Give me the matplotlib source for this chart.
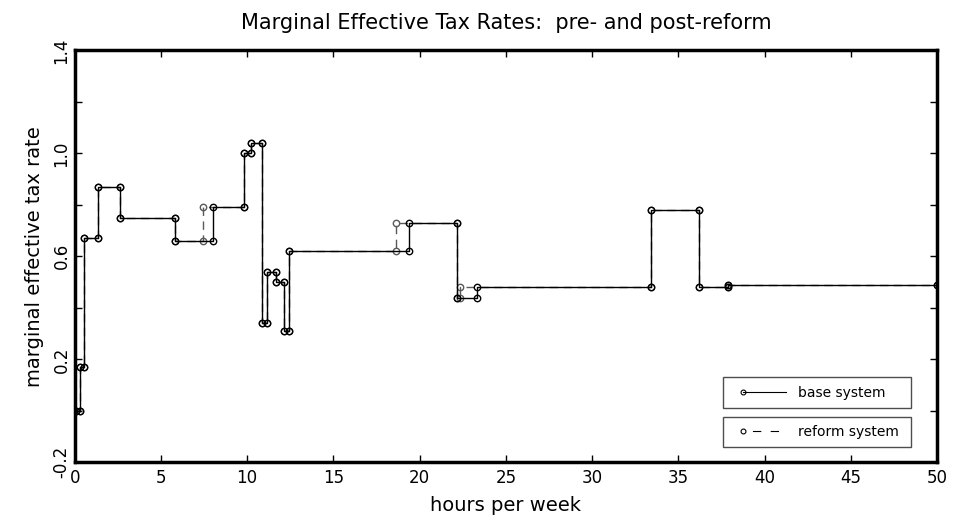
import numpy as np
import matplotlib
matplotlib.use('Agg')
import matplotlib.pyplot as plt
from matplotlib.lines import Line2D
from matplotlib.legend_handler import HandlerLine2DCompound

# breakpoints (hours per week) and the rate that holds until the next breakpoint
base_hours = [0.1, 0.3, 0.55, 1.33, 2.64, 5.81, 8.02, 9.83, 10.22, 10.86, 11.17,
              11.65, 12.13, 12.41, 19.4, 22.15, 23.3, 33.4, 36.2, 37.86, 50]
base_rates = [0.0, 0.17, 0.67, 0.87, 0.75, 0.66, 0.79, 1.0, 1.04, 0.34, 0.54,
              0.50, 0.31, 0.62, 0.73, 0.44, 0.48, 0.78, 0.48, 0.49]

reform_hours = [0.1, 0.3, 0.55, 1.33, 2.64, 5.81, 7.42, 9.83, 10.22, 10.86, 11.17,
                11.65, 12.13, 12.41, 18.63, 22.15, 22.34, 33.4, 36.2, 37.86, 50]
reform_rates = [0.0, 0.17, 0.67, 0.87, 0.75, 0.66, 0.79, 1.0, 1.04, 0.34, 0.54,
                0.50, 0.31, 0.62, 0.73, 0.44, 0.48, 0.78, 0.48, 0.49]

x_ticks = [0, 5, 10, 15, 20, 25, 30, 35, 40, 45, 50]
y_ticks = [-0.2, 0.2, 0.6, 1.0, 1.4]
y_minor = [0.0, 0.4, 0.8, 1.2]


def step_vertices(hours, rates):
    # every corner of the step function gets a marker
    h = np.asarray(hours)
    r = np.asarray(rates)
    xs = np.repeat(h, 2)[1:-1]
    ys = np.repeat(r, 2)
    return xs, ys


class LeftMarkerHandler(HandlerLine2DCompound):
    # marker at the left end of the legend line, like the original
    def get_xdata(self, legend, xdescent, ydescent, width, height, fontsize):
        x0 = -xdescent + 0.22 * width
        xdata = np.array([x0, -xdescent + width])
        return xdata, np.array([x0])


fig = plt.figure(figsize=(9.67, 5.23), dpi=100)
ax = fig.add_axes([0.0772, 0.116, 0.8918, 0.7878])

rx, ry = step_vertices(reform_hours, reform_rates)
bx, by = step_vertices(base_hours, base_rates)

ax.plot(rx, ry, color='0.35', lw=1.0, ls=(0, (6, 4)),
        marker='o', ms=4.6, mfc='none', mec='0.35', mew=1.0)
ax.plot(bx, by, color='black', lw=1.0, ls='-',
        marker='o', ms=4.6, mfc='none', mec='black', mew=1.0)

ax.set_xlim(0, 50)
ax.set_ylim(-0.2, 1.4)
ax.set_xticks(x_ticks)
ax.set_xticklabels([str(t) for t in x_ticks])
ax.set_yticks(y_ticks)
ax.set_yticklabels(['%.1f' % t for t in y_ticks], rotation=90, va='center')
ax.set_yticks(y_minor, minor=True)

ax.tick_params(which='both', direction='in', top=True, right=True,
               length=5, width=1, labelsize=12, pad=5)
ax.tick_params(axis='y', pad=3)
for s in ax.spines.values():
    s.set_linewidth(2.5)

ax.set_title('Marginal Effective Tax Rates:  pre- and post-reform',
             fontsize=15, pad=15)
ax.set_xlabel('hours per week', fontsize=14, labelpad=6)
ax.set_ylabel('marginal effective tax rate', fontsize=14, labelpad=6)

# two separate legend boxes
h_base = Line2D([], [], color='black', lw=0.8, marker='o', ms=3.5,
                mfc='none', mec='black', mew=0.8)
h_reform = Line2D([], [], color='black', lw=0.8, ls=(7.5, (7.5, 8.5)), marker='o',
                  ms=3.5, mfc='none', mec='black', mew=0.8)
leg_kw = dict(loc='upper left', mode='expand', fontsize=10, frameon=True,
              fancybox=False, edgecolor='0.3', framealpha=1, borderpad=0.6,
              handlelength=3.9, handletextpad=0.9, borderaxespad=0,
              handler_map={Line2D: LeftMarkerHandler()})
leg1 = ax.legend(handles=[h_base], labels=['base system'],
                 bbox_to_anchor=(0.752, 0.1286, 0.2175, 0.0777), **leg_kw)
ax.add_artist(leg1)
leg2 = ax.legend(handles=[h_reform], labels=['reform system'],
                 bbox_to_anchor=(0.752, 0.0323, 0.2175, 0.0784), **leg_kw)
for leg in (leg1, leg2):
    leg.get_frame().set_linewidth(1.0)

fig.savefig('out.png', dpi=100)
